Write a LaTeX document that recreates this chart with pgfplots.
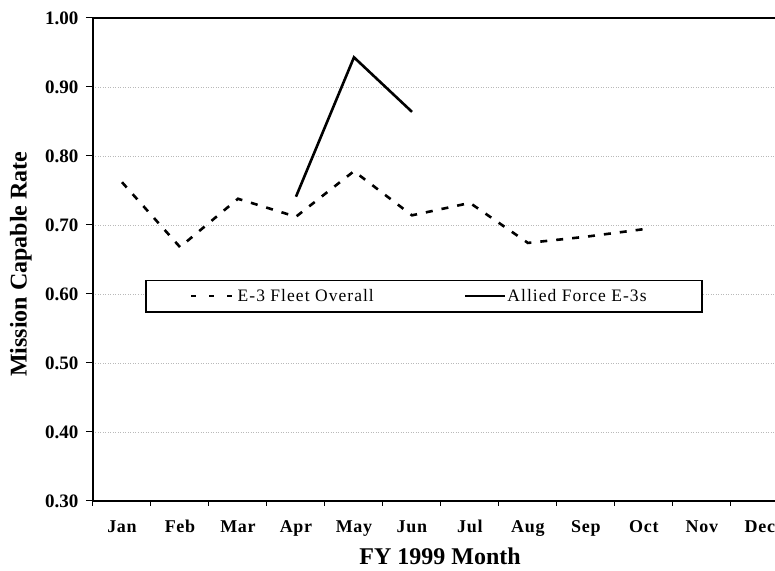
\documentclass[border=0pt]{standalone}
\usepackage{fontspec}
\setmainfont{Liberation Serif}
\newfontfamily\legfont[LetterSpace=6]{Liberation Serif}
\newfontfamily\tickfont[LetterSpace=4]{Liberation Serif}
\usepackage{pgfplots}
\pgfplotsset{compat=1.18}
\begin{document}
\begin{tikzpicture}
\begin{axis}[
  name=ax,
  scale only axis,
  width=682pt, height=483pt,
  xmin=-0.5, xmax=11.26,
  ymin=0.3, ymax=1.0,
  clip=false,
  axis x line*=bottom, axis y line*=left,
  axis line style={line width=1.6pt, -},
  tick align=outside,
  xtick={0,...,11},
  xticklabels={Jan,Feb,Mar,Apr,May,Jun,Jul,Aug,Sep,Oct,Nov,Dec},
  minor xtick={-0.5,0.5,...,10.5},
  ytick={0.3,0.4,0.5,0.6,0.7,0.8,0.9,1.0},
  major tick length=7pt,
  minor tick length=5pt,
  major x tick style={draw=none},
  minor x tick style={line width=1pt, black},
  major y tick style={line width=1pt, black},
  ymajorgrids,
  major grid style={gray!55, line width=0.6pt, dash pattern=on 1pt off 1.5pt},
  /pgf/number format/assume math mode=true,
  yticklabel style={/pgf/number format/.cd, fixed, fixed zerofill, precision=2,
    /tikz/.cd, font=\fontsize{19}{21}\selectfont\bfseries, xshift=-4pt},
  xticklabel style={font=\tickfont\fontsize{18}{20}\selectfont\bfseries, anchor=base, yshift=-25pt},
  label style={font=\fontsize{24}{28}\selectfont\bfseries},
  xlabel={FY 1999 Month},
  ylabel={Mission Capable Rate},
  xlabel style={at={(axis description cs:0.509,0)}, anchor=base, yshift=-64pt},
  ylabel style={at={(axis description cs:-0.1056,0.49)}, anchor=center},
  legend columns=2,
  legend cell align=left,
  legend style={draw=none, fill=none, at={(axis cs:1.17,0.597)}, anchor=west,
    inner sep=0pt, font=\legfont\fontsize{17.5}{20}\selectfont,
    nodes={inner xsep=1pt, inner ysep=0pt},
    /tikz/every even column/.append style={column sep=89pt}},
]
\draw[line width=1.6pt] (rel axis cs:0,1) -- (rel axis cs:1,1);
\draw[line width=1.2pt, fill=white] (axis cs:0.414,0.574) rectangle (axis cs:10.0,0.620);
\addplot[black, line width=2.6pt, dash pattern=on 7pt off 9pt,
  legend image code/.code={\draw[black, line width=2.6pt, dash pattern=on 5pt off 13pt] (0pt,0pt) -- (44pt,0pt);}]
  coordinates {(0,0.762) (1,0.668) (2,0.738) (3,0.712) (4,0.778) (5,0.714) (6,0.732) (7,0.674) (8,0.683) (9,0.694)};
\addlegendentry{E-3 Fleet Overall}
\addplot[black, line width=2.6pt,
  legend image code/.code={\draw[black, line width=2.6pt] (0pt,0pt) -- (40pt,0pt);}]
  coordinates {(3,0.741) (4,0.943) (5,0.864)};
\addlegendentry{Allied Force E-3s}
\end{axis}
\pgfresetboundingbox
\path ([shift={(-93pt,-70pt)}]ax.south west) rectangle ([shift={(0pt,18pt)}]ax.north east);
\end{tikzpicture}
\end{document}
